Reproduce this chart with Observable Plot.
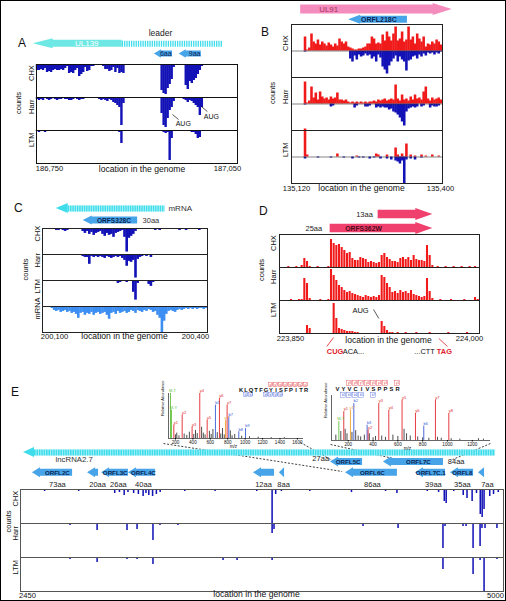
<!DOCTYPE html>
<html><head><meta charset="utf-8">
<script src="https://cdn.jsdelivr.net/npm/d3@7"></script>
<script src="https://cdn.jsdelivr.net/npm/@observablehq/plot@0.6"></script>
<style>
html,body{margin:0;padding:0;background:#fff;}
#fig{position:relative;width:506px;height:601px;overflow:hidden;background:#fff;font-family:"Liberation Sans",Arial,sans-serif;}
#border{position:absolute;left:0;top:0;width:506px;height:601px;box-sizing:border-box;border:1.5px solid #000;pointer-events:none;}
.lt{position:absolute;font-size:12px;color:#111;line-height:1;font-family:"Liberation Sans",Arial,sans-serif;}
</style></head><body>
<div id="fig"></div>
<script>
// ---------------- DATA ----------------
// Panel A (minus-strand footprints, bins of 3 nt from 186,750)
const A_start = 186750, A_step = 3, A_ticks = [186750, 187050];
const A_tracks = ["CHX", "Harr", "LTM"];
const A_CHX = [6,6,5,6,4,8,7,8,6,5, 6,6,5,6,4,2,9,8,9,6, 4,12,10,8,3,7,6,2,2,1, 1,0,1,2,5,5,7,6,3,8, 4,9,8,9,0,0,0,0,0,0, 0,0,0,0,0,0,0,0,0,0, 0,0,26,29,30,24,20,15,3,0, 0,0,0,0,21,25,17,19,16,14, 10,6,2,0,0,1,0,0,1,0, 0,0,1,0,0,0,0,1,0,0];
const A_Harr = [2,3,2,3,1,2,3,2,1,2, 3,2,2,1,2,2,3,3,2,1, 2,3,2,2,1,1,0,0,0,1, 1,2,3,2,3,4,2,3,5,6, 8,10,28,6,0,0,0,0,0,0, 0,0,0,0,0,0,0,0,0,0, 0,0,16,28,30,21,13,10,4,0, 0,0,1,2,3,5,3,4,6,8, 10,18,10,0,0,0,0,0,0,0, 0,0,0,0,0,0,0,0,0,0];
const A_LTM = [1,2,1,1,2,1,1,0,1,1, 0,0,1,0,0,0,0,0,0,0, 0,0,0,0,0,0,0,0,0,0, 0,0,0,0,0,0,0,0,0,0, 0,2,13,0,0,0,0,0,0,0, 0,0,0,0,0,0,0,0,0,0, 0,0,0,2,3,2,30,8,0,0, 0,0,0,0,0,0,0,2,2,4, 8,7,0,0,0,0,0,0,0,0, 0,0,0,0,0,0,0,0,0,0];
const A_arrows = [
  {name: "UL139", start: 186745, end: 186878, lane: 1, dir: "<"},
  {name: "6aa", start: 186926, end: 186953, lane: 2, dir: "<"},
  {name: "9aa", start: 186963, end: 186996, lane: 2, dir: "<"}
];
const A_leader = [{name: "leader", start: 186878, end: 187029, lane: 1, dir: ">"}];
const A_aug = [{x: 186969, v: 26, x1: 186953, v1: 17, x2: 186962, v2: 22}, {x: 187011, v: 19, x1: 186996, v1: 9, x2: 187005, v2: 14}];

// Panel B (bins of 4 nt from 135,120; plus = red, minus = blue)
const B_start = 135120, B_step = 4, B_ticks = [135120, 135400];
const B_tracks = ["CHX", "Harr", "LTM"];
const B_CHX_plus = [0,0,0,0,0,0,14,1,3,17, 9,7,11,6,9,7,5,8,6,4, 7,5,12,9,7,9,4,3,2,1, 1,2,2,3,4,7,7,14,12,7, 8,7,16,10,19,14,10,17,24,10, 12,19,9,11,24,11,14,7,17,12, 9,14,4,7,6,9,7,11,9,6];
const B_CHX_minus = [0,0,0,0,0,0,1,0,0,0, 0,0,0,0,0,0,0,0,0,0, 0,0,0,0,0,0,0,8,11,5, 9,4,6,5,3,5,4,8,6,11, 4,7,16,19,23,15,11,8,5,11, 6,9,11,20,10,9,6,5,8,4, 6,3,5,2,3,2,4,2,3,1];
const B_Harr_plus = [0,0,0,0,0,0,22,1,3,17, 6,11,4,12,7,5,6,4,7,5, 6,11,4,4,3,4,2,1,2,1, 2,1,2,1,2,1,2,2,3,2, 4,3,4,5,3,4,5,4,19,5, 3,9,4,5,3,7,4,9,5,6, 4,12,17,5,3,6,4,5,6,4];
const B_Harr_minus = [0,0,0,0,0,0,1,0,0,0, 0,0,0,0,0,0,0,0,3,2, 0,0,0,0,0,0,0,0,0,4, 2,0,0,0,3,3,2,0,0,4, 3,4,3,4,4,6,5,8,9,11, 14,18,22,8,5,4,3,4,3,0, 3,2,0,0,4,2,3,3,2,0];
const B_LTM_plus = [0,0,0,0,0,0,28,2,0,0, 0,0,0,0,0,0,0,0,0,0, 0,3,0,0,0,0,0,0,0,0, 1,0,0,0,0,0,0,0,0,3, 2,0,0,0,2,0,0,0,9,2, 0,3,0,13,0,2,0,1,0,0, 2,0,1,0,0,2,0,0,1,0];
const B_LTM_minus = [0,0,0,0,0,0,2,0,0,0, 0,0,1,0,0,0,0,0,1,0, 0,0,0,0,1,0,0,0,2,0, 0,1,0,1,0,0,2,0,1,0, 0,2,0,0,2,0,3,0,4,5, 7,4,27,3,0,2,0,3,0,0, 1,0,0,0,0,0,0,0,0,0];
const B_arrows_pink = [{name: "UL91", start: 135137, end: 135418, lane: 0, dir: ">"}];
const B_arrows_blue = [{name: "ORFL218C", start: 135226, end: 135335, lane: 1, dir: "<"}];

// Panel C (bins of 4 nt from 200,100)
const C_start = 200100, C_step = 4, C_ticks = [200100, 200400];
const C_tracks = ["CHX", "Harr", "LTM", "mRNA"];
const C_CHX = [0,0,0,0,0,1,2,2,1,2, 3,2,1,0,0,1,0,1,3,5, 3,6,4,7,5,4,3,6,8,5, 7,6,9,5,4,3,2,9,24,10, 8,6,3,1,0,0,0,1,0,0, 1,2,1,2,1,0,0,0,0,0, 0,1,2,1,1,2,1,0,0,1, 1,2,1,1,0];
const C_Harr = [0,0,0,0,0,0,1,1,0,0, 1,0,0,0,0,0,0,1,2,3, 3,10,2,3,2,3,2,3,4,2, 3,4,3,2,3,2,4,6,12,7, 8,6,24,5,3,2,1,2,1,3, 1,0,1,0,0,1,0,0,0,0, 1,0,0,1,0,0,0,1,0,0, 1,0,0,1,0];
const C_LTM = [0,0,0,0,0,1,0,1,1,0, 1,0,1,1,0,1,0,1,0,1, 1,0,1,0,1,1,0,1,0,1, 1,0,0,1,3,2,1,0,2,1, 1,12,20,3,1,0,0,1,4,6, 2,0,0,1,0,0,0,0,0,0, 0,0,0,0,1,0,0,0,0,0, 0,0,0,0,0];
const C_mRNA = [0,0,1,1,2,4,5,4,6,5, 4,6,5,7,6,8,12,7,6,9, 7,8,6,9,7,6,8,7,6,9, 13,7,6,8,5,7,6,5,7,6, 4,5,7,4,5,6,4,5,3,4, 6,5,9,12,27,15,8,5,4,5, 6,4,3,4,3,2,3,2,3,2, 3,2,2,3,2];
const C_mrnaArrow = [{name: "mRNA", start: 200125, end: 200323, lane: 0, dir: "<"}];
const C_orf = [{name: "ORFS328C", start: 200174, end: 200273, lane: 1, dir: "<"}];

// Panel D (plus-strand, bins of 2 nt from 223,850)
const D_start = 223850, D_step = 2, D_ticks = [223850, 224000];
const D_tracks = ["CHX", "Harr", "LTM"];
const D_CHX = [0,0,0,1,0,0,1,0,2,9, 6,1,0,0,1,0,0,0,1,28, 24,22,23,20,17,14,15,9,7,7, 10,9,8,5,6,5,4,5,12,14, 10,8,6,6,5,9,10,8,10,7, 12,8,7,7,6,22,12,2,0,1, 0,0,1,0,0,1,0,0,1,0, 0,1,0,1,0];
const D_Harr = [0,0,0,0,1,0,0,1,1,22, 17,2,0,0,0,1,0,0,1,31, 25,20,15,13,10,8,9,7,6,5, 4,3,5,4,3,4,3,5,25,23, 17,13,8,9,7,10,8,9,7,10, 6,5,4,3,4,22,9,2,0,0, 1,0,0,0,1,0,0,0,0,1, 0,0,0,3,1];
const D_LTM = [0,0,0,0,0,0,0,0,0,0, 8,5,0,0,0,0,0,0,0,0, 30,15,5,4,3,2,2,2,1,1, 0,0,0,0,0,0,0,0,12,7, 3,1,1,0,1,0,0,1,0,0, 0,1,0,0,0,0,1,0,0,0, 0,0,0,1,0,0,0,0,0,0, 1,0,0,0,0];
const D_arrows = [
  {name: "13aa", start: 223924, end: 223965, lane: 0, dir: ">"},
  {name: "ORFS362W", start: 223888, end: 223965, lane: 1, dir: ">"}
];

// Panel E (sparse footprints: [position, counts])
const E_ticks = [2450, 5000];
const E_tracks = ["CHX", "Harr", "LTM"];
const E_CHX = [[2470,1],[2520,1],[2580,2],[2640,1],[2700,1],[2760,2],[2820,1],[2880,1],[2950,4],[2975,3],[3000,6],[3020,3],[3050,4],[3075,5],[3100,7],[3115,4],[3130,6],[3150,7],[3170,5],[3190,3],[3250,1],[3320,2],[3400,1],[3480,2],[3560,1],[3640,1],[3700,2],[3781,34],[3800,5],[3830,2],[3900,1],[3980,2],[4060,1],[4120,1],[4200,3],[4300,1],[4380,2],[4440,4],[4520,1],[4600,2],[4660,3],[4690,12],[4700,14],[4740,2],[4790,6],[4810,9],[4837,12],[4860,4],[4880,25],[4890,28],[4900,20],[4930,7],[4950,5],[4975,3]];
const E_Harr = [[2500,1],[2600,1],[2714,2],[2800,1],[2857,7],[2900,1],[2950,1],[3015,7],[3068,6],[3110,1],[3152,17],[3189,2],[3284,2],[3400,1],[3550,1],[3700,1],[3781,10],[3791,6],[3900,1],[4050,1],[4261,3],[4446,5],[4560,1],[4683,25],[4694,3],[4789,3],[4805,3],[4842,25],[4879,23],[4889,5],[4905,5],[4968,5]];
const E_LTM = [[2714,2],[2857,5],[3015,2],[3068,2],[3152,7],[3522,3],[3596,3],[3781,3],[4261,1],[4446,1],[4683,12],[4842,17],[4879,3],[4900,34],[4968,2]];
const E_lnc = [{name: "lncRNA2.7", start: 2466, end: 4958, lane: 0, dir: "<"}];
const E_orfs = [
  {name: "ORFL2C", start: 2513, end: 2725, lane: 1.9, dir: "<"},
  {name: "orf20", start: 2804, end: 2862, lane: 1.9, dir: "<"},
  {name: "ORFL3C", start: 2878, end: 3020, lane: 1.9, dir: "<"},
  {name: "ORFL4C", start: 3020, end: 3163, lane: 1.9, dir: "<"},
  {name: "orf12", start: 3680, end: 3791, lane: 1.9, dir: "<"},
  {name: "orf8", start: 3817, end: 3844, lane: 1.9, dir: "<"},
  {name: "ORFL5C", start: 4087, end: 4256, lane: 0.9, dir: "<"},
  {name: "ORFL7C", start: 4366, end: 4683, lane: 0.9, dir: "<"},
  {name: "ORFL6C", start: 4166, end: 4440, lane: 1.9, dir: "<"},
  {name: "ORFL7C.1", start: 4535, end: 4694, lane: 1.9, dir: "<"},
  {name: "ORFL8", start: 4720, end: 4842, lane: 1.9, dir: "<"},
  {name: "orf7", start: 4868, end: 4900, lane: 1.9, dir: "<"}
];
const E_orfNames = [
  {t: "ORFL2C", x: 2645, lane: 1.9}, {t: "ORFL3C", x: 2950, lane: 1.9}, {t: "ORFL4C", x: 3099, lane: 1.9},
  {t: "ORFL5C", x: 4180, lane: 0.9}, {t: "ORFL7C", x: 4551, lane: 0.9}, {t: "ORFL6C", x: 4308, lane: 1.9},
  {t: "ORFL7C.1", x: 4616, lane: 1.9}, {t: "ORFL8", x: 4783, lane: 1.9}
];
const E_aaLabels = [
  {t: "73aa", x: 2645, lane: 3}, {t: "20aa", x: 2857, lane: 3}, {t: "26aa", x: 2967, lane: 3}, {t: "40aa", x: 3099, lane: 3},
  {t: "12aa", x: 3733, lane: 3}, {t: "8aa", x: 3839, lane: 3}, {t: "86aa", x: 4308, lane: 3}, {t: "39aa", x: 4630, lane: 3},
  {t: "35aa", x: 4783, lane: 3}, {t: "7aa", x: 4915, lane: 3}, {t: "27aa", x: 4035, lane: 0.6}, {t: "84aa", x: 4750, lane: 0.85}
];
const E_connectors = [
  {x1: 3205, l1: -0.84, x2: 4148, l2: 1.78},
  {x1: 3928, l1: -0.94, x2: 4124, l2: 1.03},
  {x1: 4087, l1: -0.75, x2: 4419, l2: 0.56},
  {x1: 4931, l1: -0.84, x2: 4731, l2: 0.66}
];

// Mass spectra: [m/z, relative abundance, ion type, label]
const L_peaks = [[143,100,"M","M-T"],[154,63,"M","M-Y"],[181,30,"y","y1"],[277,52,"y","y2"],[391,26,"y","y3"],[479,100,"y","y4"],[564,41,"y","y5"],[659,74,"b","b5"],[705,89,"y","y6"],[774,40,"o","y7*"],[793,74,"y","y7"],[812,48,"b","b7"],[927,15,"b","b8"],[1004,22,"b","b9"]];
const L_noise = [[200,8],[215,12],[240,6],[300,10],[330,7],[360,14],[410,9],[430,18],[450,11],[500,25],[520,12],[540,8],[590,16],[610,9],[630,20],[680,13],[720,10],[740,22],[760,8],[830,17],[850,6],[880,9],[960,5],[1050,4],[1150,3],[1300,2],[1450,2]];
const R_peaks = [[124,42,"M","M-T"],[164,64,"y","y1"],[218,67,"o","y1*"],[245,82,"b","b2"],[352,34,"b","b3"],[360,23,"y","y2"],[446,82,"y","y3"],[527,67,"y","y4"],[634,90,"y","y5"],[742,60,"y","y6"],[809,32,"b","b6"],[903,90,"y","y7"],[1011,60,"y","y8"]];
const R_noise = [[100,12],[140,20],[175,25],[190,15],[230,18],[260,22],[280,10],[300,8],[330,12],[370,15],[400,6],[420,9],[470,10],[500,7],[560,12],[600,9],[650,25],[670,15],[700,10],[760,8],[800,6],[850,5],[920,7],[950,5],[1030,4],[1100,3],[1250,4],[1290,3]];
const L_ticks = [200,400,600,800,1000,1200,1400,1600];
const R_ticks = [200,400,600,800,1000,1200];
const L_peptide = "KLQTFGYISFPITR";
const L_yIons = [[6,"y8"],[7,"y7"],[8,"y6"],[9,"y5"],[10,"y4"],[11,"y3"],[12,"y2"],[13,"y1"]];
const L_bIons = [[1,"b2"],[2,"b3"],[5,"b6"],[6,"b7"],[7,"b8"],[8,"b9"]];
const R_peptide = "VYVCIVSPPSR";
const R_yIons = [[2,"y9"],[3,"y8"],[4,"y7"],[5,"y6"],[6,"y5"],[7,"y4"],[8,"y3"],[10,"y1"]];
const R_bIons = [[1,"b2"],[2,"b3"],[3,"b4"],[4,"b5"],[6,"b7"]];

// ---------------- HELPERS ----------------
const FONT = "'Liberation Sans', Arial, Helvetica, sans-serif";
const STYLE = {background: "none", overflow: "visible", fontFamily: FONT, fontSize: "8px", color: "#111"};
const NAVY = "#1212b6", RED = "#f01a1a", MRNA_BLUE = "#3c8ef2", CYAN = "#3fdcec", CYAN_LIGHT = "#b4f4f7", UL_CYAN = "#6ee8e4",
      ORF_BLUE = "#48a4e8", PINK = "#f48cbd", ROSE = "#f0406e", LABEL_NAVY = "#0b2452";
const ION = {y: "#e3262b", b: "#3a5ad8", M: "#62c23c", o: "#f0a030"};
const BAR = {insetLeft: -0.2, insetRight: -0.2};
const fig = document.getElementById("fig");
function place(node, left, top) { node.style.position = "absolute"; node.style.left = left + "px"; node.style.top = top + "px"; fig.appendChild(node); }
function binRows(track, start, step, vals, sign = 1) {
  const out = [];
  vals.forEach((v, i) => { if (v > 0) out.push({track, x1: start + i * step, x2: start + (i + 1) * step, v: sign * v}); });
  return out;
}
function pairRows(track, w, pairs) { return pairs.map(([p, v]) => ({track, x1: p - w / 2, x2: p + w / 2, v})); }
function arrowMarks(arrows, o) {
  const hx = o.head / o.kx, sh = o.shaftH / 2 / o.ky, hh = o.headH / 2 / o.ky;
  const pts = [], shafts = [];
  for (const a of arrows) {
    const c = a.lane;
    if (a.dir === "<") {
      const b = Math.min(a.start + hx, a.end);
      const e = o.striped ? b : a.end;
      pts.push({id: a.name, x: a.start, y1: c, y2: c}, {id: a.name, x: b, y1: c - hh, y2: c + hh},
               {id: a.name, x: b, y1: c - sh, y2: c + sh}, {id: a.name, x: e, y1: c - sh, y2: c + sh});
      if (o.striped) shafts.push({lane: c, x1: b, x2: a.end});
    } else {
      const b = Math.max(a.end - hx, a.start);
      const s = o.striped ? b : a.start;
      pts.push({id: a.name, x: s, y1: c - sh, y2: c + sh}, {id: a.name, x: b, y1: c - sh, y2: c + sh},
               {id: a.name, x: b, y1: c - hh, y2: c + hh}, {id: a.name, x: a.end, y1: c, y2: c});
      if (o.striped) shafts.push({lane: c, x1: a.start, x2: b});
    }
  }
  const marks = [];
  if (shafts.length) {
    if (o.under) marks.push(Plot.ruleY(shafts, {y: "lane", x1: "x1", x2: "x2", stroke: o.under, strokeWidth: o.shaftH}));
    marks.push(Plot.ruleY(shafts, {y: "lane", x1: "x1", x2: "x2", stroke: o.fill, strokeWidth: o.shaftH, strokeDasharray: o.dash}));
  }
  if (o.head > 0) marks.push(Plot.areaY(pts, {x: "x", y1: "y1", y2: "y2", z: "id", fill: o.fill, curve: "linear"}));
  return marks;
}
function trackLabels(tracks, dx, countsTrack, countsDx, countsDy = 0) {
  return [
    Plot.text(tracks, {fy: d => d, text: d => d, frameAnchor: "left", rotate: -90, dx, fontSize: 7.5, fill: "#111"}),
    Plot.text(["counts"], {fy: () => countsTrack, text: d => d, frameAnchor: "left", rotate: -90, dx: countsDx, dy: countsDy, fontSize: 7.5, fill: "#111"})
  ];
}
function axisLabels(ticks, fmt, track, dxL, dxR, dy, titleDx, titleDy) {
  return [
    Plot.text([ticks[0]], {x: d => d, fy: () => track, text: d => fmt(d), frameAnchor: "bottom", dx: dxL, dy, fontSize: 7.6, fill: "#111"}),
    Plot.text([ticks[1]], {x: d => d, fy: () => track, text: d => fmt(d), frameAnchor: "bottom", dx: dxR, dy, fontSize: 7.6, fill: "#111"}),
    Plot.text(["location in the genome"], {fy: () => track, text: d => d, frameAnchor: "bottom", dx: titleDx, dy: titleDy, fontSize: 8.6, fill: "#111"})
  ];
}
const comma = d3.format(",");

// ---------------- PANEL A ----------------
{
  const rows = [...binRows("CHX", A_start, A_step, A_CHX), ...binRows("Harr", A_start, A_step, A_Harr), ...binRows("LTM", A_start, A_step, A_LTM)];
  place(Plot.plot({
    width: 250, height: 112, marginLeft: 36, marginRight: 13, marginTop: 0, marginBottom: 13,
    x: {domain: [186750, 187050], axis: null}, y: {domain: [0, 33], reverse: true, axis: null},
    fy: {domain: A_tracks, padding: 0, axis: null}, style: STYLE,
    marks: [
      Plot.rect(rows, {x1: "x1", x2: "x2", y1: 0, y2: "v", fy: "track", fill: NAVY, ...BAR}),
      Plot.frame({stroke: "#111", strokeWidth: 1}),
      ...trackLabels(A_tracks, -5, "Harr", -18),
      ...axisLabels(A_ticks, comma, "LTM", 13, -10, 7.5, 5, 8),
      Plot.link(A_aug, {x1: "x1", y1: "v1", x2: "x2", y2: "v2", fy: () => "Harr", stroke: "#111", strokeWidth: 0.7}),
      Plot.text(A_aug, {x: "x", y: "v", text: () => "AUG", fy: () => "Harr", fontSize: 7, fill: "#111"})
    ]
  }), 0, 64);
  const kx = 201 / 300, ky = 10.25;
  place(Plot.plot({
    width: 250, height: 42, marginLeft: 36, marginRight: 13, marginTop: 0, marginBottom: 0,
    x: {domain: [186750, 187050], axis: null}, y: {domain: [0, 2], range: [11, 31.5], axis: null}, style: STYLE,
    marks: [
      ...arrowMarks(A_leader, {kx, ky, head: 0, shaftH: 6, headH: 6, fill: CYAN, striped: true, dash: "1.3,1"}),
      ...arrowMarks([A_arrows[0]], {kx, ky, head: 20, shaftH: 7, headH: 10, fill: UL_CYAN}),
      ...arrowMarks(A_arrows.slice(1), {kx, ky, head: 7, shaftH: 6, headH: 8.5, fill: ORF_BLUE}),
      Plot.text([A_arrows[0]], {x: () => 186825, y: "lane", text: "name", fill: "#ffffff", fontSize: 8}),
      Plot.text(A_arrows.slice(1), {x: d => d.end - 10, y: "lane", text: "name", fill: LABEL_NAVY, fontSize: 7}),
      Plot.text(A_leader, {x: () => 186935, y: () => 0, text: "name", fill: "#222", fontSize: 8.5})
    ]
  }), 0, 22);
}

// ---------------- PANEL B ----------------
{
  const plus = [...binRows("CHX", B_start, B_step, B_CHX_plus), ...binRows("Harr", B_start, B_step, B_Harr_plus), ...binRows("LTM", B_start, B_step, B_LTM_plus)];
  const minus = [...binRows("CHX", B_start, B_step, B_CHX_minus, -1), ...binRows("Harr", B_start, B_step, B_Harr_minus, -1), ...binRows("LTM", B_start, B_step, B_LTM_minus, -1)];
  place(Plot.plot({
    width: 256, height: 172, marginLeft: 41, marginRight: 64, marginTop: 0, marginBottom: 13,
    x: {domain: [135120, 135400], axis: null}, y: {domain: [-26.5, 26.5], axis: null},
    fy: {domain: B_tracks, padding: 0, axis: null}, style: STYLE,
    marks: [
      Plot.rect(minus, {x1: "x1", x2: "x2", y1: 0, y2: "v", fy: "track", fill: NAVY, ...BAR}),
      Plot.rect(plus, {x1: "x1", x2: "x2", y1: 0, y2: "v", fy: "track", fill: RED, ...BAR}),
      Plot.ruleY([0], {stroke: "#333", strokeWidth: 0.6}),
      Plot.frame({stroke: "#222", strokeWidth: 1}),
      ...trackLabels(B_tracks, -6, "Harr", -19),
      ...axisLabels(B_ticks, comma, "LTM", 5, -2, 7.5, -5.5, 7)
    ]
  }), 250, 24);
  const kx = 151 / 280, ky = 10.3;
  place(Plot.plot({
    width: 256, height: 24, marginLeft: 41, marginRight: 64, marginTop: 0, marginBottom: 0,
    x: {domain: [135120, 135400], axis: null}, y: {domain: [0, 1], range: [9, 19.3], axis: null}, style: STYLE,
    marks: [
      ...arrowMarks(B_arrows_pink, {kx, ky, head: 19, shaftH: 9, headH: 12, fill: PINK}),
      ...arrowMarks(B_arrows_blue, {kx, ky, head: 12, shaftH: 7, headH: 9, fill: ORF_BLUE}),
      Plot.text(B_arrows_pink, {x: () => 135189, y: "lane", text: "name", fill: "#a83262", fontSize: 8}),
      Plot.text(B_arrows_blue, {x: () => 135282, y: "lane", text: "name", fill: LABEL_NAVY, fontSize: 7, fontWeight: "bold"})
    ]
  }), 250, 0);
}

// ---------------- PANEL C ----------------
{
  const navy = [...binRows("CHX", C_start, C_step, C_CHX), ...binRows("Harr", C_start, C_step, C_Harr), ...binRows("LTM", C_start, C_step, C_LTM)];
  const mrna = binRows("mRNA", C_start, C_step, C_mRNA);
  place(Plot.plot({
    width: 250, height: 118, marginLeft: 42, marginRight: 43, marginTop: 0, marginBottom: 12,
    x: {domain: [200100, 200400], axis: null}, y: {domain: [0, 26.5], reverse: true, axis: null},
    fy: {domain: C_tracks, padding: 0, axis: null}, style: STYLE,
    marks: [
      Plot.rect(navy, {x1: "x1", x2: "x2", y1: 0, y2: "v", fy: "track", fill: NAVY, ...BAR}),
      Plot.rect(mrna, {x1: "x1", x2: "x2", y1: 0, y2: "v", fy: "track", fill: MRNA_BLUE, ...BAR}),
      Plot.frame({stroke: "#222", strokeWidth: 1}),
      ...trackLabels(C_tracks, -5, "Harr", -17, 13),
      ...axisLabels(C_ticks, comma, "mRNA", 12, -12, 6.5, -0.5, 6.5)
    ]
  }), 0, 227);
  const kx = 165 / 300, ky = 12;
  place(Plot.plot({
    width: 250, height: 30, marginLeft: 42, marginRight: 43, marginTop: 0, marginBottom: 0,
    x: {domain: [200100, 200400], axis: null}, y: {domain: [0, 1], range: [11, 23], axis: null}, style: STYLE,
    marks: [
      ...arrowMarks(C_mrnaArrow, {kx, ky, head: 12, shaftH: 6, headH: 10, fill: CYAN, under: CYAN_LIGHT, striped: true, dash: "1.4,0.9"}),
      ...arrowMarks(C_orf, {kx, ky, head: 9, shaftH: 7, headH: 9, fill: ORF_BLUE}),
      Plot.text(C_mrnaArrow, {x: () => 200329, y: "lane", text: "name", textAnchor: "start", fill: "#333", fontSize: 8}),
      Plot.text(C_orf, {x: () => 200230, y: "lane", text: "name", fill: LABEL_NAVY, fontSize: 6.6, fontWeight: "bold"}),
      Plot.text(["30aa"], {x: () => 200282, y: () => 1, text: d => d, textAnchor: "start", fill: "#333", fontSize: 7.5})
    ]
  }), 0, 197);
}

// ---------------- PANEL D ----------------
{
  const rows = [...binRows("CHX", D_start, D_step, D_CHX), ...binRows("Harr", D_start, D_step, D_Harr), ...binRows("LTM", D_start, D_step, D_LTM)];
  place(Plot.plot({
    width: 256, height: 125, marginLeft: 29, marginRight: 27, marginTop: 0, marginBottom: 26,
    x: {domain: [223850, 224000], axis: null}, y: {domain: [0, 33], axis: null},
    fy: {domain: D_tracks, padding: 0, axis: null}, style: STYLE,
    marks: [
      Plot.rect(rows, {x1: "x1", x2: "x2", y1: 0, y2: "v", fy: "track", fill: RED, insetLeft: 0.3, insetRight: 0.3}),
      Plot.frame({stroke: "#222", strokeWidth: 1}),
      ...trackLabels(D_tracks, -6, "Harr", -18, -3),
      ...axisLabels(D_ticks, comma, "LTM", 11, -10, 7, 9, 9),
      Plot.text(["AUG"], {x: () => 223910.75, y: () => 23, fy: () => "LTM", text: d => d, fontSize: 7.5, fill: "#111"}),
      Plot.link([0], {x1: () => 223920.5, y1: () => 24, x2: () => 223924.5, y2: () => 15, fy: () => "LTM", stroke: "#111", strokeWidth: 0.7}),
      Plot.link([0, 1], {x1: d => d ? 223969.5 : 223890.5, y1: d => d ? -5 : -4, x2: d => d ? 223976 : 223885.5, y2: -13, fy: () => "LTM", stroke: "#e0202a", strokeWidth: 0.8}),
      Plot.text(["CUG"], {x: () => 223885.5, y: () => -18, fy: () => "LTM", text: d => d, textAnchor: "start", fill: "#e0202a", fontWeight: "bold", fontSize: 7.4}),
      Plot.text(["ACA..."], {x: () => 223897.5, y: () => -18, fy: () => "LTM", text: d => d, textAnchor: "start", fill: "#111", fontSize: 7.4}),
      Plot.text(["...CTT"], {x: () => 223966.5, y: () => -18, fy: () => "LTM", text: d => d, textAnchor: "end", fill: "#111", fontSize: 7.4}),
      Plot.text(["TAG"], {x: () => 223968, y: () => -18, fy: () => "LTM", text: d => d, textAnchor: "start", fill: "#e0202a", fontWeight: "bold", fontSize: 7.4})
    ]
  }), 250, 234);
  const kx = 200 / 150, ky = 14;
  place(Plot.plot({
    width: 256, height: 36, marginLeft: 29, marginRight: 27, marginTop: 0, marginBottom: 0,
    x: {domain: [223850, 224000], axis: null}, y: {domain: [0, 1], range: [16, 30], axis: null}, style: STYLE,
    marks: [
      ...arrowMarks(D_arrows, {kx, ky, head: 17, shaftH: 8.5, headH: 12, fill: ROSE}),
      Plot.text([D_arrows[0]], {x: () => 223920, y: "lane", text: "name", textAnchor: "end", fill: "#222", fontSize: 7.5}),
      Plot.text(["25aa"], {x: () => 223882, y: () => 1, text: d => d, textAnchor: "end", fill: "#222", fontSize: 7.5}),
      Plot.text([D_arrows[1]], {x: () => 223913, y: "lane", text: "name", fill: "#4a0716", fontSize: 6.8, fontWeight: "bold"})
    ]
  }), 250, 198);
}

// ---------------- PANEL E ----------------
{
  const rows = [...pairRows("CHX", 8, E_CHX), ...pairRows("Harr", 8, E_Harr), ...pairRows("LTM", 8, E_LTM)];
  place(Plot.plot({
    width: 506, height: 112, marginLeft: 20, marginRight: 3, marginTop: 0, marginBottom: 10,
    x: {domain: [2450, 5000], axis: null}, y: {domain: [0, 34], reverse: true, axis: null},
    fy: {domain: E_tracks, padding: 0, axis: null}, style: STYLE,
    marks: [
      Plot.rect(rows, {x1: "x1", x2: "x2", y1: 0, y2: "v", fy: "track", fill: NAVY}),
      Plot.frame({stroke: "#555", strokeWidth: 1}),
      ...trackLabels(E_tracks, -5, "Harr", -12, -8),
      ...axisLabels(E_ticks, d3.format("d"), "LTM", 7, -8, 6, -5.5, 5.5)
    ]
  }), 0, 489);
  const kx = 483 / 2550, ky = 32 / 3;
  place(Plot.plot({
    width: 506, height: 49, marginLeft: 20, marginRight: 3, marginTop: 0, marginBottom: 0,
    x: {domain: [2450, 5000], axis: null}, y: {domain: [0, 3], range: [12, 44], axis: null}, style: STYLE,
    marks: [
      Plot.link(E_connectors, {x1: "x1", y1: "l1", x2: "x2", y2: "l2", stroke: "#111", strokeWidth: 0.8, strokeDasharray: "2,1.6"}),
      ...arrowMarks(E_lnc, {kx, ky, head: 11, shaftH: 6, headH: 10, fill: CYAN, under: CYAN_LIGHT, striped: true, dash: "1.6,0.8"}),
      ...arrowMarks(E_orfs, {kx, ky, head: 8, shaftH: 7, headH: 10, fill: ORF_BLUE}),
      Plot.text(E_lnc, {x: () => 2635, y: () => 0.68, text: "name", textAnchor: "start", fill: "#333", fontSize: 7.8}),
      Plot.text(E_orfNames, {x: "x", y: "lane", text: "t", fill: LABEL_NAVY, fontSize: 6.2, fontWeight: "bold"}),
      Plot.text(E_aaLabels, {x: "x", y: "lane", text: "t", fill: "#222", fontSize: 7.5})
    ]
  }), 0, 440);
}

// ---------------- MASS SPECTRA ----------------
function spectrum(peaks, noise, ticks, domain, geo, mzLabelX) {
  const asg = peaks.map(([mz, int, t, lab]) => ({mz, int, t, lab}));
  const nz = noise.map(([mz, int]) => ({mz, int}));
  return Plot.plot({
    width: geo.w, height: geo.h, marginLeft: geo.ml, marginRight: geo.mr, marginTop: geo.mt, marginBottom: geo.mb,
    x: {domain, ticks, tickSize: 1.5, tickPadding: 0.5, label: null, tickFormat: "d"},
    y: {domain: [0, 100], axis: null},
    style: {...STYLE, fontSize: "4.6px"},
    marks: [
      Plot.ruleX(nz, {x: "mz", y1: 0, y2: "int", stroke: "#222", strokeWidth: 0.8}),
      Plot.ruleX(asg, {x: "mz", y1: 0, y2: "int", stroke: d => ION[d.t], strokeWidth: 0.9}),
      Plot.text(asg, {x: "mz", y: "int", text: "lab", dy: -2.5, dx: 2, fill: d => ION[d.t], fontSize: 4}),
      Plot.ruleY([0], {stroke: "#000", strokeWidth: 0.6}),
      Plot.ruleX([domain[0]], {y1: 0, y2: 100, stroke: "#000", strokeWidth: 0.6}),
      Plot.text(["Relative Abundance"], {frameAnchor: "left", rotate: -90, dx: -6, fontSize: 4, fill: "#111"}),
      Plot.text(["m/z"], {x: () => mzLabelX, frameAnchor: "bottom", dy: 9, fontSize: 4.6, fill: "#111"})
    ]
  });
}
place(spectrum(L_peaks, L_noise, L_ticks, [120, 1670], {w: 180, h: 85, ml: 28, mr: 17, mt: 28, mb: 12}, 866), 140, 365);
place(spectrum(R_peaks, R_noise, R_ticks, [65, 1347], {w: 206, h: 90, ml: 31, mr: 16, mt: 35, mb: 10}, 677), 300, 360);

function peptide(seq, yIons, bIons, geo) {
  const aa = seq.split("").map((c, i) => ({i, c}));
  const yi = yIons.map(([i, lab]) => ({i, lab})), bi = bIons.map(([i, lab]) => ({i, lab}));
  return Plot.plot({
    width: geo.w, height: geo.h, marginLeft: geo.ml, marginRight: geo.mr, marginTop: 0, marginBottom: 0,
    x: {type: "band", domain: aa.map(d => d.i), padding: 0, axis: null},
    y: {type: "band", domain: ["y", "seq", "b"], range: geo.yr, padding: 0, axis: null},
    style: STYLE,
    marks: [
      Plot.cell(yi, {x: "i", y: () => "y", fill: "none", stroke: ION.y, strokeWidth: 0.35, inset: 0.6}),
      Plot.text(yi, {x: "i", y: () => "y", text: "lab", fill: ION.y, fontSize: 2.8}),
      Plot.cell(bi, {x: "i", y: () => "b", fill: "none", stroke: ION.b, strokeWidth: 0.35, inset: 0.6}),
      Plot.text(bi, {x: "i", y: () => "b", text: "lab", fill: ION.b, fontSize: 2.8}),
      Plot.text(aa, {x: "i", y: () => "seq", text: "c", fill: "#111", fontSize: 5.8, fontWeight: "bold"})
    ]
  });
}
place(peptide(L_peptide, L_yIons, L_bIons, {w: 90, h: 30, ml: 7, mr: 7, yr: [9.5, 26]}), 228, 372);
place(peptide(R_peptide, R_yIons, R_bIons, {w: 82, h: 30, ml: 7, mr: 6.5, yr: [7.5, 26]}), 326, 372);

// ---------------- LETTERS & BORDER ----------------
for (const [t, l, tp] of [["A", 18, 36.5], ["B", 261, 25.5], ["C", 14, 201.5], ["D", 259, 204.5], ["E", 11, 385.5]]) {
  const d = document.createElement("div"); d.className = "lt"; d.textContent = t; d.style.left = l + "px"; d.style.top = tp + "px"; fig.appendChild(d);
}
const br = document.createElement("div"); br.id = "border"; fig.appendChild(br);
</script></body></html>
